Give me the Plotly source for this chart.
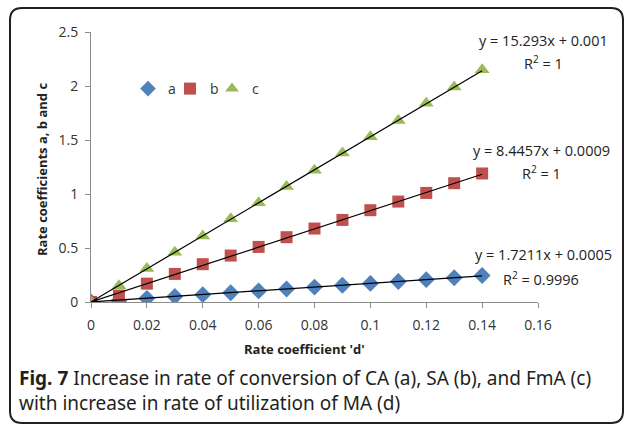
import plotly.graph_objects as go
import numpy as np

d = [0, 0.01, 0.02, 0.03, 0.04, 0.05, 0.06, 0.07, 0.08, 0.09, 0.10, 0.11, 0.12, 0.13, 0.14]
a = [0, 0.012, 0.034, 0.052, 0.068, 0.086, 0.103, 0.12, 0.138, 0.155, 0.172, 0.19, 0.207, 0.224, 0.245]
b = [0, 0.06, 0.17, 0.26, 0.35, 0.43, 0.51, 0.60, 0.68, 0.76, 0.85, 0.93, 1.01, 1.10, 1.19]
c = [0, 0.15, 0.31, 0.46, 0.61, 0.77, 0.92, 1.07, 1.22, 1.38, 1.53, 1.68, 1.84, 1.99, 2.15]

fits = {"a": (1.7211, 0.0005, "0.9996"), "b": (8.4457, 0.0009, "1"), "c": (15.293, 0.001, "1")}
eq_labels = {"a": "y = 1.7211x + 0.0005", "b": "y = 8.4457x + 0.0009", "c": "y = 15.293x + 0.001"}

W, H = 629, 425
L, R, T, B = 91, 538, 32, 302  # plot area pixels
pw, ph = R - L, B - T

def px(x):
    return (x - L) / pw

def py(y):
    return (B - y) / ph

fig = go.Figure()
series = [("a", a, "diamond", "#4F81BD", 13, "legend"),
          ("b", b, "square", "#C0504D", 12, "legend2"),
          ("c", c, "triangle-up", "#9BBB59", 13, "legend3")]
for name, vals, sym, col, sz, lg in series:
    fig.add_trace(go.Scatter(x=d, y=vals, mode="markers", name=name, legend=lg,
                             marker=dict(symbol=sym, color=col, size=sz, line=dict(width=0))))
for name in ["a", "b", "c"]:
    m, k, _ = fits[name]
    xs = np.array([d[0], d[-1]])
    fig.add_trace(go.Scatter(x=xs, y=m * xs + k, mode="lines", showlegend=False,
                             line=dict(color="black", width=1.2)))

font = "Open Sans"
ann = [(543, 40), (543, 62), (541, 150), (541, 172), (543, 254), (541, 278)]
labels = [eq_labels["c"], "R<sup>2</sup> = " + fits["c"][2],
          eq_labels["b"], "R<sup>2</sup> = " + fits["b"][2],
          eq_labels["a"], "R<sup>2</sup> = " + fits["a"][2]]
for (x, y), lab in zip(ann, labels):
    fig.add_annotation(x=px(x), y=py(y), xref="paper", yref="paper", text=lab,
                       showarrow=False, font=dict(family=font, size=14.5, color="#222"),
                       xanchor="center", yanchor="middle")

fig.add_annotation(x=px(304), y=py(349), xref="paper", yref="paper",
                   text="<b>Rate coefficient 'd'</b>", showarrow=False,
                   xanchor="center", yanchor="middle",
                   font=dict(family=font, size=13, color="#222"))
fig.add_annotation(x=px(42), y=py(170), xref="paper", yref="paper",
                   text="<b>Rate coefficients a, b and c</b>", showarrow=False, textangle=-90,
                   xanchor="center", yanchor="middle",
                   font=dict(family=font, size=13, color="#222"))
fig.add_annotation(x=px(17), y=py(390), xref="paper", yref="paper", xanchor="left", yanchor="middle",
                   align="left",
                   text="<b>Fig. 7</b> Increase in rate of conversion of CA (a), SA (b), and FmA (c)"
                        "<br>with increase in rate of utilization of MA (d)",
                   showarrow=False, font=dict(family="Noto Sans", size=19, color="#231f20"))

# rounded border
x0, x1, y0, y1 = px(10), px(623), py(423), py(8)
rx, ry = 12 / pw, 12 / ph
path = (f"M {x0+rx},{y1} L {x1-rx},{y1} Q {x1},{y1} {x1},{y1-ry} L {x1},{y0+ry} "
        f"Q {x1},{y0} {x1-rx},{y0} L {x0+rx},{y0} Q {x0},{y0} {x0},{y0+ry} "
        f"L {x0},{y1-ry} Q {x0},{y1} {x0+rx},{y1} Z")
fig.add_shape(type="path", path=path, xref="paper", yref="paper",
              line=dict(color="#231f20", width=2))

axcol = "#8c8c8c"
fig.update_xaxes(range=[0, 0.16], dtick=0.02, tick0=0, showgrid=False, zeroline=False,
                 showline=True, linecolor=axcol, linewidth=1, ticks="outside", ticklen=5,
                 tickcolor=axcol, tickfont=dict(family=font, size=14, color="#333"),
                 tickformat="~g", ticklabelstandoff=5)
fig.update_yaxes(range=[0, 2.5], dtick=0.5, showgrid=False, zeroline=False,
                 showline=True, linecolor=axcol, linewidth=1, ticks="outside", ticklen=5,
                 tickcolor=axcol, tickfont=dict(family=font, size=14, color="#333"),
                 tickformat="~g", ticklabelstandoff=4)

leg_common = dict(orientation="h", xanchor="left", yanchor="middle", itemwidth=30,
                  font=dict(family=font, size=14, color="#333"),
                  bgcolor="rgba(0,0,0,0)", itemsizing="constant")
fig.update_layout(width=W, height=H, margin=dict(l=L, r=W - R, t=T, b=H - B),
                  plot_bgcolor="white", paper_bgcolor="white",
                  legend=dict(x=px(128), y=py(89), **leg_common),
                  legend2=dict(x=px(170), y=py(89), **leg_common),
                  legend3=dict(x=px(212), y=py(89), **leg_common))
fig.write_html("out.html", config={"displayModeBar": False},
               post_script="document.body.style.margin='0px';document.body.style.padding='0px';")
